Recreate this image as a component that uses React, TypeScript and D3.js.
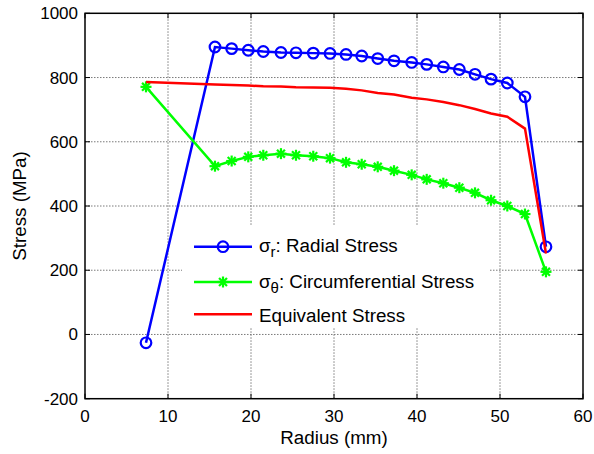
import React from "react";
import * as d3 from "d3";

const radius = [7.35, 15.66, 17.67, 19.67, 21.48, 23.61, 25.42, 27.5, 29.52, 31.45, 33.34, 35.27, 37.23, 39.36, 41.17, 43.17, 45.1, 46.99, 48.92, 50.88, 53.01, 55.54];
const radialStress = [-26, 895, 890, 885, 881, 878, 877, 876, 875, 872, 867, 859, 852, 847, 841, 833, 825, 810, 795, 783, 740, 273];
const circumStress = [771, 524, 540, 553, 558, 563, 558, 555, 549, 536, 530, 522, 510, 497, 483, 471, 457, 441, 418, 400, 375, 195];
const equivStress = [786, 778, 777, 775, 773, 772, 770, 769, 768, 765, 760, 752, 747, 737, 732, 724, 714, 702, 688, 678, 641, 252];

const xTicks = [0, 10, 20, 30, 40, 50, 60];
const yTicks = [-200, 0, 200, 400, 600, 800, 1000];

const W = 594, H = 454;
const L = 85, R = 583, T = 13.3, B = 398.7;
const FONT = "Liberation Sans, Arial, Helvetica, sans-serif";

function Asterisk({ x, y, s = 5.5, color }: { x: number; y: number; s?: number; color: string }) {
  const d = s * 0.72;
  return (
    <g stroke={color} strokeWidth={2.2}>
      <line x1={x - s} y1={y} x2={x + s} y2={y} />
      <line x1={x} y1={y - s} x2={x} y2={y + s} />
      <line x1={x - d} y1={y - d} x2={x + d} y2={y + d} />
      <line x1={x - d} y1={y + d} x2={x + d} y2={y - d} />
    </g>
  );
}

export default function App() {
  const x = d3.scaleLinear().domain([0, 60]).range([L, R]);
  const y = d3.scaleLinear().domain([-200, 1000]).range([B, T]);
  const pts = (vals: number[]) => radius.map((r, i) => [x(r), y(vals[i])] as [number, number]);
  const line = d3.line();
  const blue = pts(radialStress);
  const green = pts(circumStress);
  const red = pts(equivStress);

  const legX1 = 194, legX2 = 252, legMid = 223, legText = 259;
  const rows = [246.7, 282, 314.3];
  const base = [252.3, 288, 321.5];

  return (
    <svg width={W} height={H} style={{ position: "absolute", left: 0, top: 0, background: "#fff" }} fontFamily={FONT}>
      <rect x={0} y={0} width={W} height={H} fill="#fff" />
      {/* grid */}
      <g stroke="#7a7a7a" strokeWidth={1} strokeDasharray="1.5 1.5">
        {xTicks.slice(1, -1).map((t) => (
          <line key={"gx" + t} x1={x(t)} x2={x(t)} y1={T} y2={B} />
        ))}
        {yTicks.slice(1, -1).map((t) => (
          <line key={"gy" + t} x1={L} x2={R} y1={y(t)} y2={y(t)} />
        ))}
      </g>
      {/* legend background */}
      <rect x={182} y={225} width={308} height={102} fill="#fff" />
      {/* data */}
      <path d={line(blue) || ""} fill="none" stroke="#0000ff" strokeWidth={2.5} />
      {blue.map(([cx, cy], i) => (
        <circle key={"b" + i} cx={cx} cy={cy} r={5.3} fill="none" stroke="#0000ff" strokeWidth={2.2} />
      ))}
      <path d={line(green) || ""} fill="none" stroke="#00ff00" strokeWidth={2.5} />
      {green.map(([cx, cy], i) => (
        <Asterisk key={"g" + i} x={cx} y={cy} color="#00ff00" />
      ))}
      <path d={line(red) || ""} fill="none" stroke="#ff0000" strokeWidth={2.5} />
      {/* legend */}
      <g fontSize={18.8} fill="#000">
        <line x1={legX1} x2={legX2} y1={rows[0]} y2={rows[0]} stroke="#0000ff" strokeWidth={2.5} />
        <circle cx={legMid} cy={rows[0]} r={5.3} fill="none" stroke="#0000ff" strokeWidth={2.2} />
        <text x={legText} y={base[0]}>
          σ<tspan fontSize={15} dy={5}>r</tspan>
          <tspan dy={-5}>: Radial Stress</tspan>
        </text>
        <line x1={legX1} x2={legX2} y1={rows[1]} y2={rows[1]} stroke="#00ff00" strokeWidth={2.5} />
        <Asterisk x={legMid} y={rows[1]} color="#00ff00" />
        <text x={legText} y={base[1]}>
          σ<tspan fontSize={15} dy={5}>θ</tspan>
          <tspan dy={-5}>: Circumferential Stress</tspan>
        </text>
        <line x1={legX1} x2={legX2} y1={rows[2]} y2={rows[2]} stroke="#ff0000" strokeWidth={2.5} />
        <text x={legText} y={base[2]}>Equivalent Stress</text>
      </g>
      {/* axes box */}
      <rect x={L} y={T} width={R - L} height={B - T} fill="none" stroke="#000" strokeWidth={1.5} />
      <g stroke="#000" strokeWidth={1}>
        {xTicks.map((t) => (
          <g key={"tx" + t}>
            <line x1={x(t)} x2={x(t)} y1={B} y2={B - 5} />
            <line x1={x(t)} x2={x(t)} y1={T} y2={T + 5} />
          </g>
        ))}
        {yTicks.map((t) => (
          <g key={"ty" + t}>
            <line x1={L} x2={L + 5} y1={y(t)} y2={y(t)} />
            <line x1={R} x2={R - 5} y1={y(t)} y2={y(t)} />
          </g>
        ))}
      </g>
      {/* tick labels */}
      <g fontSize={17} fill="#000">
        {xTicks.map((t) => (
          <text key={"lx" + t} x={x(t)} y={422} textAnchor="middle">
            {t}
          </text>
        ))}
        {yTicks.map((t) => (
          <text key={"ly" + t} x={78} y={y(t) + 6} textAnchor="end">
            {t}
          </text>
        ))}
      </g>
      <text x={(L + R) / 2} y={444} textAnchor="middle" fontSize={18.8}>
        Radius (mm)
      </text>
      <text transform={`translate(25.5,${(T + B) / 2}) rotate(-90)`} textAnchor="middle" fontSize={18.8}>
        Stress (MPa)
      </text>
    </svg>
  );
}
